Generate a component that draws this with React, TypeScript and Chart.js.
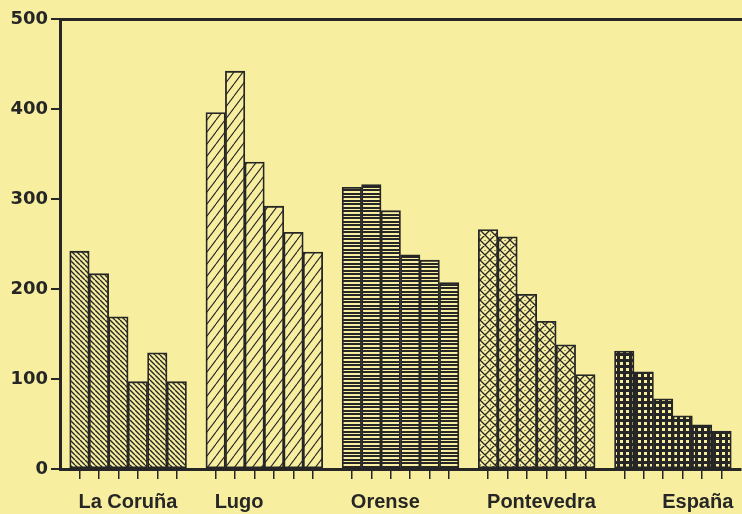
import React, { useEffect, useRef } from 'react';
import { Chart, registerables } from 'chart.js';

Chart.register(...registerables);

// ---- data ----
const GROUPS = ['La Coruña', 'Lugo', 'Orense', 'Pontevedra', 'España'];
const LA_CORUNA = [242, 217, 169, 97, 129, 97];
const LUGO = [396, 442, 341, 292, 263, 241];
const ORENSE = [313, 316, 287, 238, 232, 207];
const PONTEVEDRA = [266, 258, 194, 164, 138, 105];
const ESPANA = [131, 108, 78, 59, 49, 42];
const Y_TICKS = [0, 100, 200, 300, 400, 500];

const SERIES = [LA_CORUNA, LUGO, ORENSE, PONTEVEDRA, ESPANA];

// ---- style ----
const BG = '#f7ef9f';
const INK = '#262626';
const LABEL_SHIFT = [0, 0, 0, 0, 2]; // which bar of the group carries the group label

function makePattern(kind: number): CanvasPattern | string {
  const c = document.createElement('canvas');
  let w = 6;
  let h = 6;
  if (kind === 0) { w = 5; h = 5; }
  if (kind === 1) { w = 9; h = 12; }
  if (kind === 2) { w = 4; h = 7; }
  if (kind === 3) { w = 10; h = 10; }
  if (kind === 4) { w = 6; h = 6; }
  c.width = w;
  c.height = h;
  const ctx = c.getContext('2d');
  if (!ctx) return BG;
  ctx.fillStyle = BG;
  ctx.fillRect(0, 0, w, h);
  ctx.strokeStyle = INK;
  ctx.fillStyle = INK;
  if (kind === 0) {
    ctx.lineWidth = 1.4;
    ctx.beginPath();
    for (const o of [-w, 0, w]) {
      ctx.moveTo(o, 0);
      ctx.lineTo(o + w, h);
    }
    ctx.stroke();
  } else if (kind === 1) {
    ctx.lineWidth = 1.1;
    ctx.beginPath();
    for (const o of [-w, 0, w]) {
      ctx.moveTo(o, h);
      ctx.lineTo(o + w, 0);
    }
    ctx.stroke();
  } else if (kind === 2) {
    ctx.fillRect(0, 0, w, 2);
    ctx.fillRect(0, 4, w, 2);
  } else if (kind === 3) {
    ctx.lineWidth = 1.3;
    ctx.beginPath();
    for (const o of [-w, 0, w]) {
      ctx.moveTo(o, 0);
      ctx.lineTo(o + w, h);
      ctx.moveTo(o + w, 0);
      ctx.lineTo(o, h);
    }
    ctx.stroke();
    ctx.fillRect(4.5, 0, 1, 1);
    ctx.fillRect(0, 4.5, 1, 1);
  } else if (kind === 4) {
    ctx.fillRect(0, 0, w, h);
    ctx.fillStyle = BG;
    ctx.fillRect(2, 2, 3, 3);
  }
  const p = ctx.createPattern(c, 'repeat');
  return p || BG;
}

export default function App() {
  const ref = useRef<HTMLCanvasElement | null>(null);

  useEffect(() => {
    if (!ref.current) return;

    // slots: gap, 6 bars, gap, 6 bars, ... , gap
    const labels: string[] = [''];
    const values: (number | null)[] = [null];
    const groupOf: number[] = [-1];
    SERIES.forEach((vals, g) => {
      vals.forEach((v) => {
        labels.push(GROUPS[g]);
        values.push(v);
        groupOf.push(g);
      });
      labels.push('');
      values.push(null);
      groupOf.push(-1);
    });
    const labelIndex = GROUPS.map((_, g) => 1 + g * 7 + LABEL_SHIFT[g]);

    const patterns = GROUPS.map((_, g) => makePattern(g));
    const fills = groupOf.map((g) => (g >= 0 ? patterns[g] : BG));

    const chart = new Chart(ref.current, {
      type: 'bar',
      data: {
        labels,
        datasets: [
          {
            data: values,
            backgroundColor: fills as any,
            borderColor: INK,
            borderWidth: 1.8,
            borderSkipped: false,
            categoryPercentage: 1,
            barPercentage: 1,
          },
        ],
      },
      options: {
        animation: false,
        responsive: true,
        maintainAspectRatio: false,
        layout: { padding: { left: 0, right: 1, top: 0, bottom: 0 } },
        plugins: {
          legend: { display: false },
          tooltip: { enabled: false },
        },
        scales: {
          x: {
            type: 'category',
            position: 'bottom',
            offset: false,
            grid: {
              offset: false,
              drawOnChartArea: false,
              drawTicks: true,
              tickLength: 10,
              lineWidth: 1.5,
              color: (ctx: any) => (groupOf[ctx.index] >= 0 ? INK : 'rgba(0,0,0,0)'),
            },
            border: { display: true, color: INK, width: 3 },
            ticks: {
              autoSkip: false,
              maxRotation: 0,
              minRotation: 0,
              align: 'start',
              labelOffset: -1,
              padding: 11,
              color: INK,
              font: { family: '"Liberation Sans", Arial, sans-serif', weight: 'bold', size: 20 },
              callback: (_v: any, i: number) => {
                const g = labelIndex.indexOf(i);
                return g >= 0 ? GROUPS[g] : '';
              },
            },
            afterFit: (s: any) => {
              s.height = 45;
              s.paddingLeft = 0;
              s.paddingRight = 0;
            },
          },
          xTop: {
            type: 'linear',
            position: 'top',
            min: 0,
            max: 1,
            grid: { display: false },
            ticks: { display: false },
            border: { display: true, color: INK, width: 3 },
            afterFit: (s: any) => {
              s.height = 19;
              s.paddingLeft = 0;
              s.paddingRight = 0;
            },
          },
          y: {
            type: 'linear',
            min: 0,
            max: 500,
            afterBuildTicks: (s: any) => {
              s.ticks = Y_TICKS.map((v) => ({ value: v }));
            },
            grid: {
              drawOnChartArea: false,
              drawTicks: true,
              tickLength: 9,
              lineWidth: 2,
              color: INK,
            },
            border: { display: true, color: INK, width: 3 },
            ticks: {
              padding: 3,
              color: INK,
              font: { family: '"DejaVu Sans", sans-serif', weight: 'bold', size: 18 },
            },
            afterFit: (s: any) => {
              s.width = 60;
            },
          },
        },
      } as any,
    });

    return () => {
      chart.destroy();
    };
  }, []);

  return (
    <div
      style={{
        position: 'fixed',
        left: 0,
        top: 0,
        width: 742,
        height: 514,
        background: BG,
      }}
    >
      <canvas ref={ref} />
    </div>
  );
}
